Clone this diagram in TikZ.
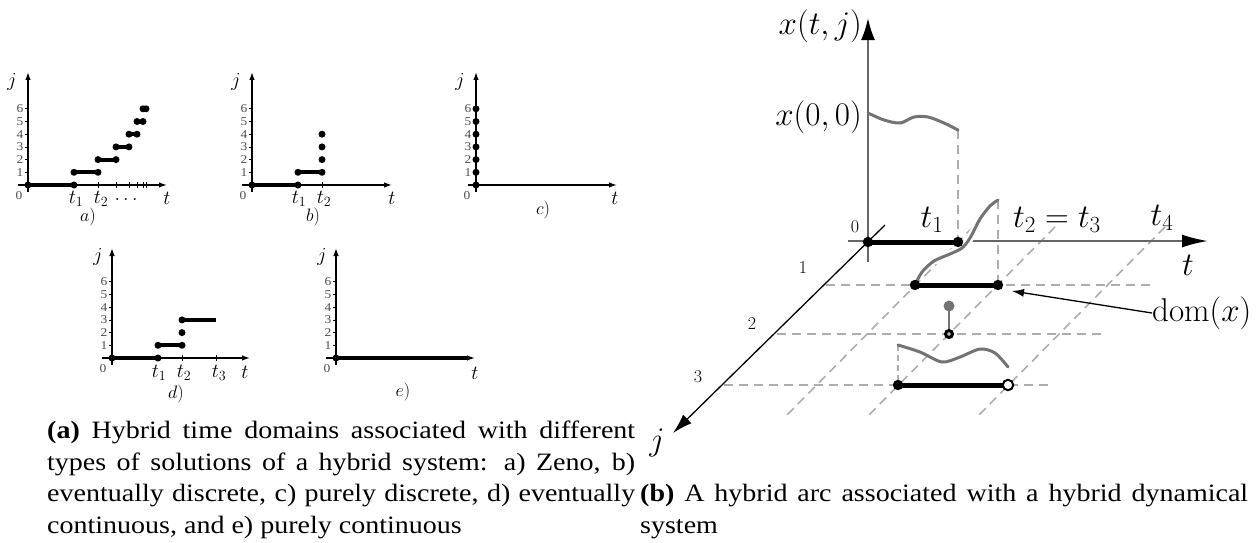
\documentclass[tikz,border=0pt]{standalone}
\usepackage{fix-cm}
\usepackage[no-math]{fontspec}
\setmainfont{Liberation Serif}[FakeStretch=1.12]
\usetikzlibrary{arrows.meta}
\definecolor{crvgray}{gray}{0.45}
\definecolor{dshgray}{gray}{0.68}
\definecolor{axgray}{gray}{0.40}
\definecolor{tickgray}{gray}{0.30}
\tikzset{
  pax/.style={line width=1.3pt,-{Latex[length=8pt,width=5.5pt]}},
  ptk/.style={line width=0.7pt},
  pseg/.style={line width=4pt},
  tklab/.style={font=\fontsize{12}{13}\selectfont,text=tickgray,inner sep=0pt},
  plab/.style={font=\fontsize{20}{22}\selectfont,inner sep=0pt},
  sublab/.style={font=\fontsize{18}{20}\selectfont,inner sep=0pt},
  axthree/.style={draw=axgray,line width=2pt},
  segthree/.style={line width=5pt,black},
  crv/.style={draw=crvgray,line width=3pt,line cap=round},
  halo/.style={draw=white,line width=8pt},
  dsh/.style={draw=dshgray,line width=1.6pt,dash pattern=on 9pt off 6pt},
  lblbig/.style={font=\fontsize{33}{36}\selectfont,inner sep=0pt},
  lblmid/.style={font=\fontsize{18}{20}\selectfont,inner sep=0pt},
  captext/.style={font=\fontsize{25}{28}\selectfont,inner sep=0pt,anchor=base west},
}
\begin{document}
\begin{tikzpicture}[x=1pt,y=-1pt]
\useasboundingbox (0,0) rectangle (1259,542);

% ---------- plot a ----------
\begin{scope}[shift={(28,185)},x=1pt,y=12.7pt]
  \draw[pax] (-10,0) -- (139,0);
  \draw[pax] (0,-0.55) -- (0,8.9);
  \foreach \k in {1,...,6}{\draw[ptk] (-3,\k) -- (0,\k); \node[tklab] (a\k) at (-8,\k) {\k};}
  \node[tklab] (a0) at (-9,-0.8) {0};
  \node[plab] (aj) at (-16,8.1) {$j$};
  \foreach \x in {46,70,88,101,109,115,118}\draw[ptk] (\x,-0.25) -- (\x,0.25);
  \foreach \a/\b/\k in {0/46/0,46/70/1,70/88/2,88/101/3,101/109/4,109/115/5,115/118/6}{
    \draw[pseg] (\a,\k) -- (\b,\k);
    \fill (\a,\k) circle (3.5pt) (\b,\k) circle (3.5pt);}
  \node[plab] (at1) at (48,-1.1) {$t_1$};
  \node[plab] (at2) at (73,-1.1) {$t_2$};
  \node[plab] (adots) at (98,-1.15) {$\dots$};
  \node[plab] (at) at (139,-1.05) {$t$};
  \node[sublab] (alab) at (60,-2.5) {$a)$};
\end{scope}

% ---------- plot b ----------
\begin{scope}[shift={(252,185)},x=1pt,y=12.7pt]
  \draw[pax] (-10,0) -- (140,0);
  \draw[pax] (0,-0.55) -- (0,8.9);
  \foreach \k in {1,...,6}{\draw[ptk] (-3,\k) -- (0,\k); \node[tklab] (b\k) at (-8,\k) {\k};}
  \node[tklab] (b0) at (-9,-0.8) {0};
  \node[plab] (bj) at (-16,8.1) {$j$};
  \foreach \x in {46,70}\draw[ptk] (\x,-0.25) -- (\x,0.25);
  \draw[pseg] (0,0) -- (46,0);
  \draw[pseg] (46,1) -- (70,1);
  \fill (0,0) circle (3.5pt) (46,0) circle (3.5pt) (46,1) circle (3.5pt) (70,1) circle (3.5pt)
        (70,2) circle (3.5pt) (70,3) circle (3.5pt) (70,4) circle (3.5pt);
  \node[plab] (bt1) at (47,-1.1) {$t_1$};
  \node[plab] (bt2) at (72,-1.1) {$t_2$};
  \node[plab] (bt) at (140,-1.05) {$t$};
  \node[sublab] (blab) at (61,-2.5) {$b)$};
\end{scope}

% ---------- plot c ----------
\begin{scope}[shift={(476,185)},x=1pt,y=12.7pt]
  \draw[pax] (-8,0) -- (141,0);
  \draw[pax] (0,-0.55) -- (0,8.9);
  \foreach \k in {1,...,6}{\node[tklab] (c\k) at (-8,\k) {\k};}
  \node[tklab] (c0) at (-9,-0.8) {0};
  \node[plab] (cj) at (-16,8.1) {$j$};
  \foreach \k in {0,...,6}{\fill (0,\k) circle (3.5pt);}
  \node[plab] (ct) at (139,-1.05) {$t$};
  \node[sublab] (clab) at (67,-1.95) {$c)$};
\end{scope}

% ---------- plot d ----------
\begin{scope}[shift={(112,358)},x=1pt,y=12.7pt]
  \draw[pax] (-10,0) -- (138,0);
  \draw[pax] (0,-0.55) -- (0,8.66);
  \foreach \k in {1,...,6}{\draw[ptk] (-3,\k) -- (0,\k); \node[tklab] (d\k) at (-8,\k) {\k};}
  \node[tklab] (d0) at (-9,-0.8) {0};
  \node[plab] (dj) at (-14,7.95) {$j$};
  \foreach \x in {46,70,104}\draw[ptk] (\x,-0.25) -- (\x,0.25);
  \draw[pseg] (0,0) -- (46,0);
  \draw[pseg] (46,1) -- (70,1);
  \draw[pseg] (70,3) -- (104,3);
  \fill (0,0) circle (3.5pt) (46,0) circle (3.5pt) (46,1) circle (3.5pt) (70,1) circle (3.5pt)
        (70,2) circle (3.5pt) (70,3) circle (3.5pt);
  \node[plab] (dt1) at (47,-1.2) {$t_1$};
  \node[plab] (dt2) at (72,-1.2) {$t_2$};
  \node[plab] (dt3) at (107,-1.2) {$t_3$};
  \node[plab] (dt) at (133,-1.15) {$t$};
  \node[sublab] (dlab) at (64,-2.85) {$d)$};
\end{scope}

% ---------- plot e ----------
\begin{scope}[shift={(336,358)},x=1pt,y=12.7pt]
  \draw[pax] (-10,0) -- (139,0);
  \draw[pax] (0,-0.55) -- (0,8.66);
  \foreach \k in {1,...,6}{\draw[ptk] (-3,\k) -- (0,\k); \node[tklab] (e\k) at (-8,\k) {\k};}
  \node[tklab] (e0) at (-9,-0.8) {0};
  \node[plab] (ej) at (-14,7.95) {$j$};
  \draw[pseg] (0,0) -- (131,0);
  \fill (0,0) circle (3.5pt);
  \node[plab] (et) at (139,-1.2) {$t$};
  \node[sublab] (elab) at (67,-2.65) {$e)$};
\end{scope}

% ---------- 3D hybrid arc ----------
% grid
\draw[dsh] (826,285) -- (1153,285);
\draw[dsh] (777,334) -- (1102,334);
\draw[dsh] (724,385) -- (1050,385);
\draw[dsh] (973,227) -- (784,418);
\draw[dsh] (1055,227) -- (866,418);
\draw[dsh] (1165,227) -- (976,418);
\draw[dsh] (958,130) -- (958,242);
\draw[dsh] (998,200) -- (998,285);
\draw[dsh,dash pattern=on 6pt off 4pt] (898,345) -- (898,385);
% axes
\draw[axthree,-{Latex[length=22pt,width=14pt,color=black]}] (868,262) -- (868,18);
\draw[axthree,-{Latex[length=26pt,width=13pt,color=black]}] (848,241) -- (1208,241);
\draw[black,line width=1.3pt,-{Latex[length=20pt,width=12pt]}] (885,225) -- (673,433);
% flows
\draw[crv] plot[smooth] coordinates {(868,113) (884,120) (900,123) (914,117) (928,117) (944,123) (958,130)};
\draw[halo] plot[smooth] coordinates {(934,261) (950,254) (962,248) (970,238) (980,219)};
\draw[crv] plot[smooth] coordinates {(915,285) (922,272) (934,261) (950,254) (962,248) (970,238) (980,219) (990,206) (998,200)};
\draw[crv] plot[smooth] coordinates {(898,345) (920,352) (942,362) (960,357) (980,349) (995,353) (1008,367)};
% domain segments
\draw[segthree] (868,242) -- (958,242);
\fill (868,242) circle (5.2pt) (958,242) circle (5.2pt);
\draw[segthree] (915,285) -- (998,285);
\fill (915,285) circle (5.2pt) (998,285) circle (5.2pt);
\draw[segthree] (898,385) -- (1003,385);
\fill (898,385) circle (5.2pt);
\draw[black,line width=2pt,fill=white] (1008,385) circle (5.2pt);
% jump
\draw[crvgray,line width=2.5pt] (949,306) -- (949,330);
\fill[crvgray] (949,306) circle (5.5pt);
\draw[black,line width=3pt,fill=gray!50] (949,334) circle (3.5pt);
% labels
\node[lblbig,anchor=east] (xtj) at (862,26) {$x(t,j)$};
\node[lblbig,anchor=east] (x00) at (862,117) {$x(0,0)$};
\node[lblmid] (o3) at (855,227) {$0$};
\node[lblbig] (t1) at (932,220) {$t_1$};
\node[lblbig] (t23) at (1057,220) {$t_2 = t_3$};
\node[lblbig] (t4) at (1162,218) {$t_4$};
\node[lblbig] (tt) at (1188,265) {$t$};
\node[lblbig,anchor=west] (dom) at (1152,313) {$\mathrm{dom}(x)$};
\node[lblmid] (l1) at (803,268) {$1$};
\node[lblmid] (l2) at (752,324) {$2$};
\node[lblmid] (l3) at (698,377) {$3$};
\node[lblbig] (jj) at (657,443) {$j$};
\coordinate (domtip) at (1012,291);
\draw[black,line width=1.3pt,-{Latex[length=12pt,width=8pt]}] (dom.west) -- (domtip);

% ---------- captions ----------
\node[captext] (ca1) at (47,438) {\makebox[588pt][s]{\textbf{(a)} Hybrid time domains associated with different}};
\node[captext] (ca2) at (47,470) {\makebox[588pt][s]{types of solutions of a hybrid system: a) Zeno, b)}};
\node[captext] (ca3) at (47,501) {\makebox[588pt][s]{eventually discrete, c) purely discrete, d) eventually}};
\node[captext] (ca4) at (47,533) {continuous, and e) purely continuous};
\node[captext] (cb1) at (640,501) {\makebox[608pt][s]{\textbf{(b)} A hybrid arc associated with a hybrid dynamical}};
\node[captext] (cb2) at (640,533) {system};
\end{tikzpicture}
\end{document}
